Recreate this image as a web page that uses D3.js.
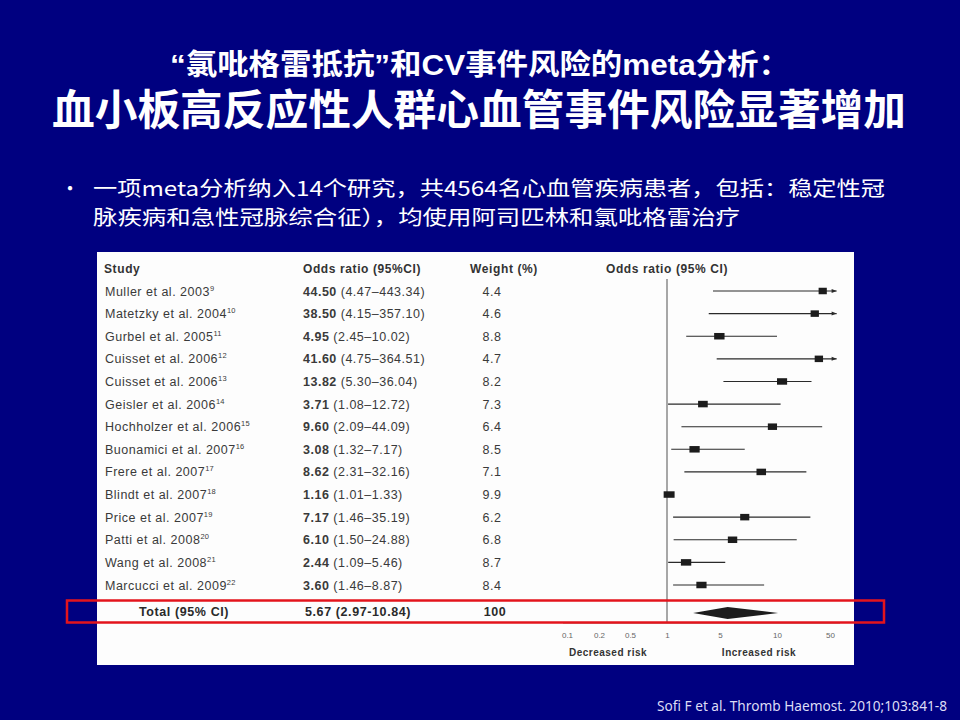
<!DOCTYPE html>
<html>
<head>
<meta charset="utf-8">
<script src="https://cdn.jsdelivr.net/npm/d3@7"></script>
<style>
  html, body { margin: 0; padding: 0; background: #000080; }
  svg { display: block; }
</style>
</head>
<body>
<svg id="chart" width="960" height="720"></svg>
<script>
// ---------- DATA ----------
const studies = ["Muller et al. 2003", "Matetzky et al. 2004", "Gurbel et al. 2005", "Cuisset et al. 2006",
  "Cuisset et al. 2006", "Geisler et al. 2006", "Hochholzer et al. 2006", "Buonamici et al. 2007",
  "Frere et al. 2007", "Blindt et al. 2007", "Price et al. 2007", "Patti et al. 2008",
  "Wang et al. 2008", "Marcucci et al. 2009"];
const refs = [9, 10, 11, 12, 13, 14, 15, 16, 17, 18, 19, 20, 21, 22];
const oddsRatio = [44.50, 38.50, 4.95, 41.60, 13.82, 3.71, 9.60, 3.08, 8.62, 1.16, 7.17, 6.10, 2.44, 3.60];
const ciLow = [4.47, 4.15, 2.45, 4.75, 5.30, 1.08, 2.09, 1.32, 2.31, 1.01, 1.46, 1.50, 1.09, 1.46];
const ciHigh = [443.34, 357.10, 10.02, 364.51, 36.04, 12.72, 44.09, 7.17, 32.16, 1.33, 35.19, 24.88, 5.46, 8.87];
const weights = [4.4, 4.6, 8.8, 4.7, 8.2, 7.3, 6.4, 8.5, 7.1, 9.9, 6.2, 6.8, 8.7, 8.4];
const totalLabel = "Total (95% CI)";
const totalOR = 5.67, totalLow = 2.97, totalHigh = 10.84, totalWeight = 100;
const tickValues = [0.1, 0.2, 0.5, 1, 5, 10, 50];
const tickLabels = ["0.1", "0.2", "0.5", "1", "5", "10", "50"];
const axisMax = 55;

const titleLine1 = "“氯吡格雷抵抗”和CV事件风险的meta分析：";
const titleLine2 = "血小板高反应性人群心血管事件风险显著增加";
const bulletLines = ["一项meta分析纳入14个研究，共4564名心血管疾病患者，包括：稳定性冠",
                     "脉疾病和急性冠脉综合征），均使用阿司匹林和氯吡格雷治疗"];
const citation = "Sofi F et al. Thromb Haemost. 2010;103:841-8";

// ---------- DRAW ----------
const svg = d3.select("#chart");
const CJK = "'Noto Sans CJK SC', 'Noto Sans', sans-serif";
const TITLE = "'Liberation Sans', 'Noto Sans CJK SC', sans-serif";
const SANS = "'Liberation Sans', Arial, sans-serif";

svg.append("rect").attr("width", 960).attr("height", 720).attr("fill", "#000080");

// Titles
svg.append("text").attr("x", 480).attr("y", 75).attr("text-anchor", "middle")
  .attr("font-family", TITLE).attr("font-weight", 700).attr("font-size", 29)
  .attr("fill", "#fff").attr("textLength", 620).attr("lengthAdjust", "spacingAndGlyphs")
  .text(titleLine1);
svg.append("text").attr("x", 479).attr("y", 125).attr("text-anchor", "middle")
  .attr("font-family", TITLE).attr("font-weight", 700).attr("font-size", 42)
  .attr("fill", "#fff").attr("textLength", 854).attr("lengthAdjust", "spacingAndGlyphs")
  .text(titleLine2);

// Bullet
svg.append("text").attr("x", 60).attr("y", 196).attr("font-family", CJK)
  .attr("font-size", 20).attr("fill", "#fff").text("•");
const bulletWidths = [792, 647];
bulletLines.forEach((t, i) => {
  svg.append("text").attr("x", 93).attr("y", 196 + i * 29)
    .attr("font-family", CJK).attr("font-size", 20.5).attr("fill", "#fff")
    .attr("textLength", bulletWidths[i]).attr("lengthAdjust", "spacingAndGlyphs")
    .text(t);
});

// Citation
svg.append("text").attr("x", 657).attr("y", 711)
  .attr("font-family", "'Noto Sans', 'Open Sans', sans-serif").attr("font-size", 14)
  .attr("fill", "#dcdcf5").attr("textLength", 290).attr("lengthAdjust", "spacingAndGlyphs")
  .text(citation);

// White panel
svg.append("rect").attr("x", 97).attr("y", 252).attr("width", 757).attr("height", 413)
  .attr("fill", "#fdfdfd");

// Scales
const x = d3.scaleLinear().domain(tickValues).range([567, 599, 630, 667, 720, 777, 830]);
const y = d3.scalePoint().domain(d3.range(studies.length)).range([291, 585]);
const yTotal = 612;

const fmt2 = d3.format(".2f"), fmt1 = d3.format(".1f");
const textCol = "#3a3a3a";

// Headers
const hdr = svg.append("g").attr("font-family", SANS).attr("font-weight", 700)
  .attr("font-size", 12).attr("letter-spacing", 0.6).attr("fill", "#333");
hdr.append("text").attr("x", 104).attr("y", 273).text("Study");
hdr.append("text").attr("x", 303).attr("y", 273).text("Odds ratio (95%CI)");
hdr.append("text").attr("x", 504).attr("y", 273).attr("text-anchor", "middle").text("Weight (%)");
hdr.append("text").attr("x", 667).attr("y", 273).attr("text-anchor", "middle").text("Odds ratio (95% CI)");

// Study rows text
const rowsG = svg.append("g").attr("font-family", SANS).attr("font-size", 12.5)
  .attr("letter-spacing", 0.5).attr("fill", textCol);
studies.forEach((s, i) => {
  const t = rowsG.append("text").attr("x", 105).attr("y", y(i) + 4.5);
  t.append("tspan").text(s);
  t.append("tspan").attr("font-size", 7.5).attr("letter-spacing", 0.2).attr("dy", -5).text(refs[i]);

  const o = rowsG.append("text").attr("x", 303).attr("y", y(i) + 4.5);
  o.append("tspan").attr("font-weight", 700).text(fmt2(oddsRatio[i]));
  o.append("tspan").text(" (" + fmt2(ciLow[i]) + "–" + fmt2(ciHigh[i]) + ")");

  rowsG.append("text").attr("x", 492).attr("y", y(i) + 4.5).attr("text-anchor", "middle")
    .text(fmt1(weights[i]));
});

// Total row text
const totG = svg.append("g").attr("font-family", SANS).attr("font-size", 12.5)
  .attr("letter-spacing", 0.6).attr("font-weight", 700).attr("fill", "#2a2a2a");
totG.append("text").attr("x", 139).attr("y", yTotal + 4).text(totalLabel);
totG.append("text").attr("x", 305).attr("y", yTotal + 4)
  .text(fmt2(totalOR) + " (" + fmt2(totalLow) + "-" + fmt2(totalHigh) + ")");
totG.append("text").attr("x", 495).attr("y", yTotal + 4).attr("text-anchor", "middle")
  .text(totalWeight);

// Axis
const axis = d3.axisBottom(x).tickValues(tickValues).tickSize(0).tickPadding(9)
  .tickFormat((d, i) => tickLabels[i]);
const axG = svg.append("g").attr("transform", "translate(0,623)").call(axis);
axG.select(".domain").remove();
axG.selectAll("text").attr("font-family", SANS).attr("font-size", 8).attr("fill", "#666");
svg.append("line").attr("x1", 563).attr("x2", 840).attr("y1", 623).attr("y2", 623)
  .attr("stroke", "#777").attr("stroke-width", 1);

svg.append("text").attr("x", 608).attr("y", 656).attr("text-anchor", "middle")
  .attr("font-family", SANS).attr("font-weight", 700).attr("font-size", 10)
  .attr("letter-spacing", 0.5).attr("fill", "#333")
  .text("Decreased risk");
svg.append("text").attr("x", 759).attr("y", 656).attr("text-anchor", "middle")
  .attr("font-family", SANS).attr("font-weight", 700).attr("font-size", 10)
  .attr("letter-spacing", 0.5).attr("fill", "#333")
  .text("Increased risk");

// Line of no effect
svg.append("line").attr("x1", x(1)).attr("x2", x(1)).attr("y1", 279).attr("y2", 623)
  .attr("stroke", "#8a8a8a").attr("stroke-width", 1.5);

// CI lines, arrows, squares
const plot = svg.append("g");
studies.forEach((s, i) => {
  const cy = y(i);
  const hiClipped = ciHigh[i] > axisMax;
  const x2 = x(Math.min(ciHigh[i], axisMax));
  plot.append("line").attr("x1", x(ciLow[i])).attr("x2", x2).attr("y1", cy).attr("y2", cy)
    .attr("stroke", "#2a2a2a").attr("stroke-width", 1.1);
  if (hiClipped) {
    plot.append("path")
      .attr("d", `M${x2},${cy} l-5,-2 l0,4 Z`)
      .attr("fill", "#2a2a2a");
  }
  const w = 6 + weights[i] * 0.5, h = 6.5;
  plot.append("rect").attr("x", x(oddsRatio[i]) - w / 2).attr("y", cy - h / 2)
    .attr("width", w).attr("height", h).attr("fill", "#1c1c1c");
});

// Diamond
plot.append("path")
  .attr("d", `M${x(totalLow)},${yTotal + 1} L${x(totalOR)},${yTotal - 5} L${x(totalHigh)},${yTotal + 1} L${x(totalOR)},${yTotal + 7} Z`)
  .attr("fill", "#1c1c1c");

// Red highlight box
svg.append("rect").attr("x", 67).attr("y", 600.5).attr("width", 817).attr("height", 22)
  .attr("fill", "none").attr("stroke", "#e3141c").attr("stroke-width", 2.5);
</script>
</body>
</html>
